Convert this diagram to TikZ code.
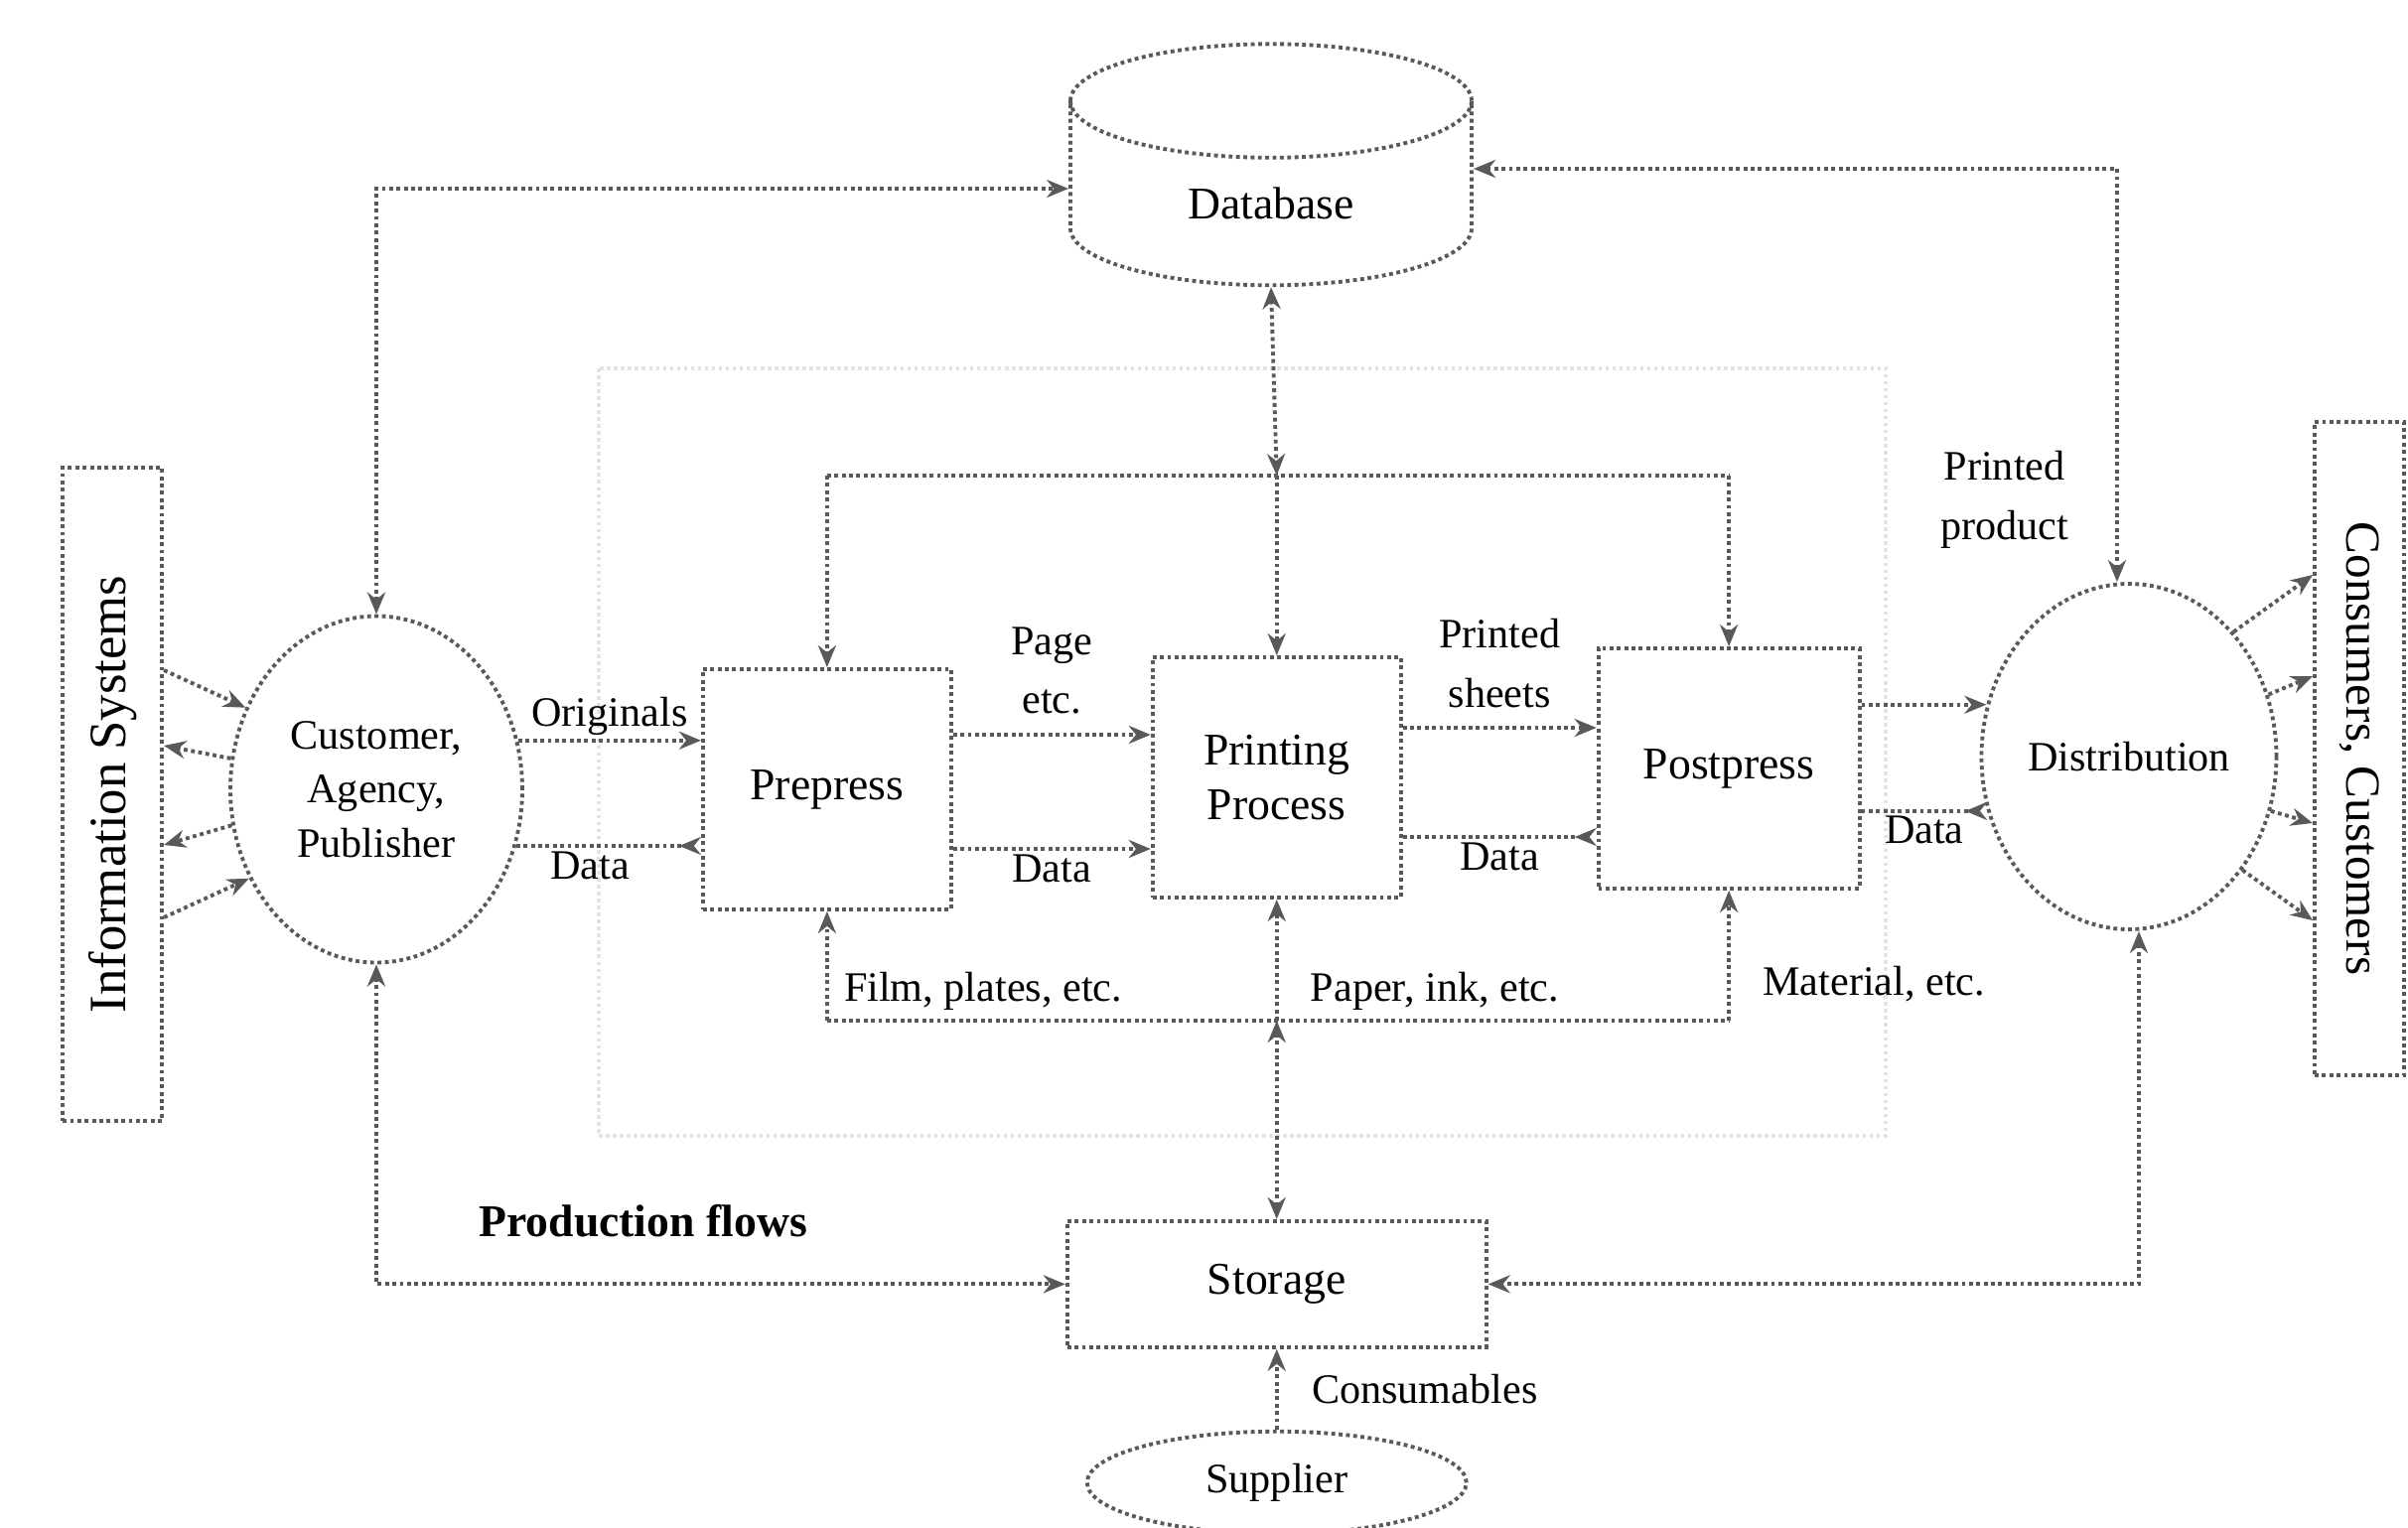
\documentclass[tikz,border=0pt]{standalone}
\usepackage{fontspec}
\setmainfont{Liberation Serif}
\usepackage{xcolor}
\usepackage{tikz}
\usetikzlibrary{shapes.geometric, arrows.meta, positioning, calc}

\definecolor{ink}{gray}{0.35}

\begin{document}
\begin{tikzpicture}[
  every node/.style={font=\fontsize{12}{14.5}\selectfont},
  flow/.style={densely dotted, line width=1.1pt, draw=ink},
  box/.style={rectangle, flow, minimum width=2.5cm, minimum height=2.42cm, align=center, font=\fontsize{13}{15.5}\selectfont},
  oval/.style={ellipse, flow, align=center, inner sep=0pt, font=\fontsize{12}{15.5}\selectfont},
  side/.style={rectangle, flow, minimum width=1.0cm, minimum height=6.58cm, inner sep=0pt, font=\fontsize{15}{17}\selectfont},
  dbase/.style={cylinder, shape border rotate=90, aspect=0.6, flow, minimum width=4.04cm, minimum height=2.43cm, font=\fontsize{13}{15.5}\selectfont},
  arr/.style={flow, -{Stealth[length=2.2mm, width=1.8mm]}},
  darr/.style={flow, {Stealth[length=2.2mm, width=1.8mm]}-{Stealth[length=2.2mm, width=1.8mm]}},
  rarr/.style={flow, -{Stealth[length=2.2mm, width=1.8mm, reversed]}},
  lbl/.style={align=center, inner sep=1pt},
]
\useasboundingbox (0,0) rectangle (24.25,-15.38);

% faint frame behind the production chain
\draw[densely dotted, line width=1pt, gray!22] (6.03,-3.71) rectangle (18.99,-11.44);

% Main row
\node[oval, minimum width=2.94cm, minimum height=3.49cm] (cust) at (3.79,-7.95) {Customer,\\Agency,\\Publisher};
\node[side, left=0.65cm of cust, yshift=-0.05cm] (info) {\rotatebox{90}{Information Systems}};
\node[box, right=1.78cm of cust] (prepress) {Prepress};
\node[box, right=1.99cm of prepress, yshift=0.12cm] (printing) {Printing\\Process};
\node[box, minimum width=2.63cm, right=1.95cm of printing, yshift=0.09cm] (postpress) {Postpress};
\node[oval, minimum width=2.97cm, minimum height=3.48cm, right=1.19cm of postpress, yshift=0.12cm] (distrib) {Distribution};
\node[side, minimum width=0.9cm, font=\fontsize{14}{16}\selectfont] (cons) at (23.76,-7.54) {\rotatebox{-90}{Consumers, Customers}};

% Database, storage, supplier
\node[dbase] (database) at (12.8,-2.05) {Database};
\node[box, minimum width=4.22cm, minimum height=1.27cm, below=3.22cm of printing] (storage) {Storage};
\node[oval, minimum width=3.82cm, minimum height=1.03cm, below=0.81cm of storage] (supplier) {Supplier};

% Information systems
\draw[arr] ([yshift=1.25cm]info.east) -- (cust.148);
\draw[arr] (cust.168) -- ([yshift=0.49cm]info.east);
\draw[arr] (cust.194) -- ([yshift=-0.51cm]info.east);
\draw[arr] ([yshift=-1.24cm]info.east) -- (cust.215);

% Production chain
\draw[arr] (cust.19.6) -- node[lbl, above] {Originals} (cust.19.6 -| prepress.west);
\draw[rarr] (cust.338.5) -- node[lbl, below, pos=0.4] {Data} (cust.338.5 -| prepress.west);
\draw[arr] ([yshift=5.5mm]prepress.east) -- node[lbl, above=1.5mm, font=\fontsize{12}{17}\selectfont] {Page\\etc.} ([yshift=5.5mm]prepress.east -| printing.west);
\draw[arr] ([yshift=-6mm]prepress.east) -- node[lbl, below] {Data} ([yshift=-6mm]prepress.east -| printing.west);
\draw[arr] ([yshift=5mm]printing.east) -- node[lbl, above=1.5mm, font=\fontsize{12}{17}\selectfont] {Printed\\sheets} ([yshift=5mm]printing.east -| postpress.west);
\draw[rarr] ([yshift=-6mm]printing.east) -- node[lbl, below] {Data} ([yshift=-6mm]printing.east -| postpress.west);
\draw[arr] (distrib.160.6 -| postpress.east) -- (distrib.160.6);
\draw[rarr] (distrib.201.3 -| postpress.east) -- node[lbl, below] {Data} (distrib.201.3);
\node[lbl, anchor=west, font=\fontsize{12}{17}\selectfont] (prodlbl) at (19.5,-5.03) {Printed\\product};

% Distribution to consumers
\draw[arr] (distrib.50) -- ([yshift=1.75cm]cons.west);
\draw[arr] (distrib.24) -- ([yshift=0.73cm]cons.west);
\draw[arr] (distrib.-21) -- ([yshift=-0.75cm]cons.west);
\draw[arr] (distrib.-45) -- ([yshift=-1.73cm]cons.west);

% Database links
\coordinate (dbbus) at (printing.north |- 0,-4.79);
\draw[darr] (database.south) -- (dbbus);
\draw[flow] (dbbus -| prepress.north) -- (dbbus -| postpress.north);
\draw[arr] (dbbus -| prepress.north) -- (prepress.north);
\draw[arr] (dbbus) -- (printing.north);
\draw[arr] (dbbus -| postpress.north) -- (postpress.north);
\draw[darr] (cust.north) |- ([yshift=1.5mm]database.west);
\draw[darr] ([yshift=3.5mm]database.east) -| ([xshift=-1.2mm]distrib.north);

% Material links
\coordinate (matbus) at (printing.south |- 0,-10.28);
\draw[flow] (matbus -| prepress.south) -- (matbus -| postpress.south);
\draw[arr] (matbus -| prepress.south) -- (prepress.south);
\draw[arr] (matbus) -- (printing.south);
\draw[arr] (matbus -| postpress.south) -- (postpress.south);
\draw[darr] (storage.north) -- (matbus);
\node[lbl, anchor=south west] (filmlbl) at ([xshift=1.3mm, yshift=0.6mm]matbus -| prepress.south) {Film, plates, etc.};
\node[lbl, anchor=south west] (paperlbl) at ([xshift=3mm, yshift=0.6mm]matbus) {Paper, ink, etc.};
\node[lbl, anchor=south west] (matlbl) at ([xshift=3mm, yshift=1.5mm]matbus -| postpress.south) {Material, etc.};

% Storage links
\draw[darr] (cust.south) |- (storage.west);
\draw[darr] ([xshift=1mm]distrib.south) |- (storage.east);
\draw[arr] (supplier.north) -- node[lbl, right=3mm] {Consumables} (storage.south);
\node[font=\bfseries\fontsize{13}{15}\selectfont, anchor=west] (flowlbl) at (4.7,-12.3) {Production flows};

\end{tikzpicture}
\end{document}
